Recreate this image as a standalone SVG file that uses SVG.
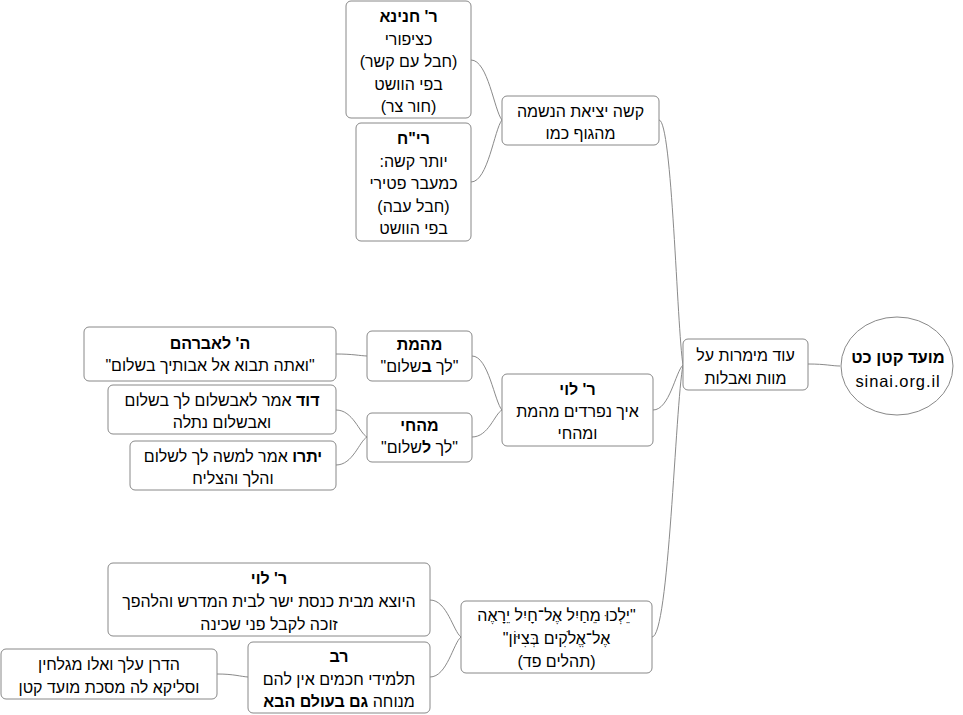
<svg xmlns="http://www.w3.org/2000/svg" width="963" height="715" viewBox="0 0 963 715">
<style>
.n rect, .n ellipse { fill: #ffffff; stroke: #888888; stroke-width: 1; }
text { font-family: "Liberation Sans", Arial, "DejaVu Sans", sans-serif; font-size: 16px; fill: #000000; direction: rtl; text-anchor: middle; }
text.ltr { direction: ltr; letter-spacing: 0.9px; font-size: 16.5px; }
.b { font-weight: bold; }
#connectors path { fill: none; stroke: #8a8a8a; stroke-width: 1; }
</style>
<rect x="0" y="0" width="963" height="715" fill="#ffffff"/>
<g id="connectors">
<path d="M808,364 C826,364 832,366 840,366"/>
<path d="M659,120 C672.2,120 677,328.3 683,365"/>
<path d="M653,410 C669.5,410 675.5,371.8 683,365"/>
<path d="M652,637 C669,637 675.3,405.8 683,365"/>
<path d="M471,60 C488,60 494.3,111 502,120"/>
<path d="M471,182 C488,182 494.3,129.3 502,120"/>
<path d="M472,356 C488.5,356 494.5,401.9 502,410"/>
<path d="M472,437 C488.5,437 494.5,414 502,410"/>
<path d="M336,354 C353,354 359.3,355.7 367,356"/>
<path d="M336,410 C353,410 359.3,433 367,437"/>
<path d="M336,465 C353,465 359.3,441.2 367,437"/>
<path d="M430,600 C447,600 453.3,631.5 461,637"/>
<path d="M430,677 C447,677 453.3,643 461,637"/>
<path d="M217,674 C234,674 240.3,676.5 248,677"/>
</g>
<g id="root" class="n">
<ellipse cx="897" cy="366" rx="56" ry="49"/>
<text x="898" y="363" class="b" style="font-size:16.5px">מועד קטן כט</text>
<text x="898" y="387" class="ltr">sinai.org.il</text>
</g>
<g id="main" class="n">
<rect x="683" y="339" width="125" height="51" rx="5"/>
<text x="745.5" y="361">עוד מימרות על</text>
<text x="745.5" y="384">מוות ואבלות</text>
</g>
<g id="kashe" class="n">
<rect x="502" y="96" width="157" height="49" rx="5"/>
<text x="580.5" y="117">קשה יציאת הנשמה</text>
<text x="580.5" y="139">מהגוף כמו</text>
</g>
<g id="chanina" class="n">
<rect x="346" y="1" width="125" height="117" rx="5"/>
<text x="408.5" y="22" class="b">ר' חנינא</text>
<text x="408.5" y="44.5">כציפורי</text>
<text x="408.5" y="67">(חבל עם קשר)</text>
<text x="408.5" y="89.5">בפי הוושט</text>
<text x="408.5" y="112">(חור צר)</text>
</g>
<g id="rich" class="n">
<rect x="356" y="123" width="115" height="118" rx="5"/>
<text x="413.5" y="144" class="b">רי"ח</text>
<text x="413.5" y="167">יותר קשה:</text>
<text x="413.5" y="189">כמעבר פטירי</text>
<text x="413.5" y="212">(חבל עבה)</text>
<text x="413.5" y="234">בפי הוושט</text>
</g>
<g id="levi1" class="n">
<rect x="502" y="374" width="151" height="72" rx="5"/>
<text x="577.5" y="395" class="b">ר' לוי</text>
<text x="577.5" y="417">איך נפרדים מהמת</text>
<text x="577.5" y="439">ומהחי</text>
</g>
<g id="mehamet" class="n">
<rect x="367" y="331" width="105" height="50" rx="5"/>
<text x="419.5" y="350" class="b">מהמת</text>
<text x="419.5" y="372">"לך <tspan class="b">ב</tspan>שלום"</text>
</g>
<g id="avraham" class="n">
<rect x="84" y="327" width="252" height="54" rx="5"/>
<text x="210" y="349" class="b">ה' לאברהם</text>
<text x="210" y="371">"ואתה תבוא אל אבותיך בשלום"</text>
</g>
<g id="mehachai" class="n">
<rect x="367" y="413" width="105" height="49" rx="5"/>
<text x="419.5" y="431" class="b">מהחי</text>
<text x="419.5" y="453">"לך <tspan class="b">ל</tspan>שלום"</text>
</g>
<g id="david" class="n">
<rect x="108" y="385" width="228" height="49" rx="5"/>
<text x="222" y="406"><tspan class="b">דוד</tspan> אמר לאבשלום לך בשלום</text>
<text x="222" y="428">ואבשלום נתלה</text>
</g>
<g id="yitro" class="n">
<rect x="130" y="441" width="206" height="49" rx="5"/>
<text x="233" y="462"><tspan class="b">יתרו</tspan> אמר למשה לך לשלום</text>
<text x="233" y="484">והלך והצליח</text>
</g>
<g id="psalm" class="n">
<rect x="461" y="601" width="191" height="72" rx="5"/>
<text x="556.5" y="621">"יֵלְכוּ מֵחַיִל אֶל־חָיִל יֵרָאֶה</text>
<text x="556.5" y="644">אֶל־אֱלֹקִים בְּצִיּוֹן"</text>
<text x="556.5" y="667">(תהלים פד)</text>
</g>
<g id="levi2" class="n">
<rect x="108" y="563" width="322" height="73" rx="5"/>
<text x="269" y="584" class="b">ר' לוי</text>
<text x="269" y="607">היוצא מבית כנסת ישר לבית המדרש והלהפך</text>
<text x="269" y="630">זוכה לקבל פני שכינה</text>
</g>
<g id="rav" class="n">
<rect x="248" y="642" width="182" height="71" rx="5"/>
<text x="339" y="662" class="b">רב</text>
<text x="339" y="685">תלמידי חכמים אין להם</text>
<text x="339" y="707">מנוחה <tspan class="b">גם בעולם הבא</tspan></text>
</g>
<g id="hadran" class="n">
<rect x="1" y="649" width="216" height="50" rx="5"/>
<text x="109" y="670">הדרן עלך ואלו מגלחין</text>
<text x="109" y="693">וסליקא לה מסכת מועד קטן</text>
</g>
</svg>
